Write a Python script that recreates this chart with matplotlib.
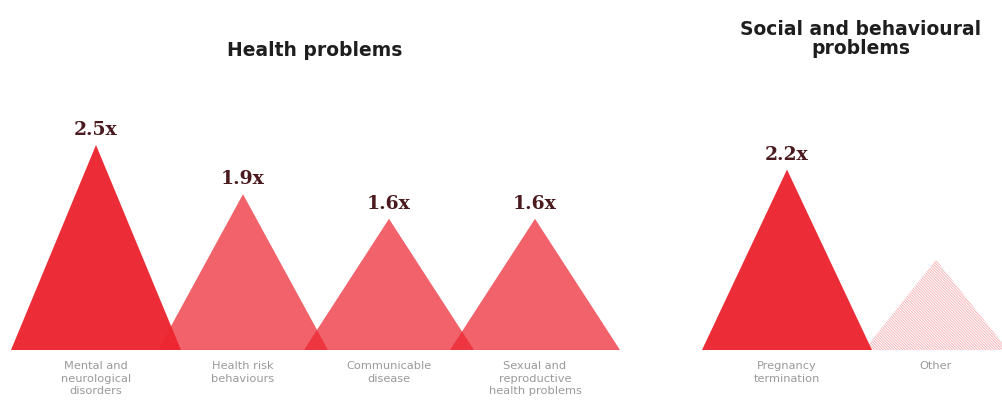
import matplotlib.pyplot as plt
from matplotlib.patches import Polygon

# data
health_labels = ["Mental and\nneurological\ndisorders", "Health risk\nbehaviours",
                 "Communicable\ndisease", "Sexual and\nreproductive\nhealth problems"]
health_values = [2.5, 1.9, 1.6, 1.6]
social_labels = ["Pregnancy\ntermination", "Other"]
social_values = [2.2, 1.1]   # "Other" has no printed value, estimated from its height

# layout (pixels across, value units up)
health_x = [96, 243, 389, 535]
social_x = [787, 936]
half_w = 85
other_half_w = 72
px_per_unit = 82
base_px = 350

red = "#EC2630"
label_grey = "#9A9A9A"
value_col = "#4A1A1E"

plt.rcParams["hatch.linewidth"] = 0.7
fig = plt.figure(figsize=(10.03, 4.12), dpi=100)
ax = fig.add_axes([0, 0, 1, 1])
ax.set_xlim(0, 1003)
ax.set_ylim(-(412 - base_px) / px_per_unit, base_px / px_per_unit)
ax.axis("off")


def triangle(x, v, hw, **kw):
    tri = Polygon([(x - hw, 0), (x, v), (x + hw, 0)], closed=True, linewidth=0, **kw)
    ax.add_patch(tri)


def value_label(x, v):
    ax.text(x, v + 0.07, f"{v}x", ha="center", va="bottom", fontsize=13.5,
            fontweight="bold", family="DejaVu Serif", color=value_col)


def cat_label(x, s):
    ax.text(x, -0.14, s, ha="center", va="top", fontsize=8.2, color=label_grey,
            linespacing=1.3)


# health problems
for i, (x, v, s) in enumerate(zip(health_x, health_values, health_labels)):
    triangle(x, v, half_w, facecolor=red, alpha=0.97 if i == 0 else 0.72, zorder=2 + i)
    value_label(x, v)
    cat_label(x, s)

# social and behavioural problems
triangle(social_x[0], social_values[0], half_w, facecolor=red, alpha=0.97, zorder=2)
value_label(social_x[0], social_values[0])
cat_label(social_x[0], social_labels[0])

triangle(social_x[1], social_values[1], other_half_w, facecolor="none",
         edgecolor="#F5B5B9", hatch="\\" * 12, zorder=1)
cat_label(social_x[1], social_labels[1])

# titles
fig.text(315 / 1003, 1 - 50 / 412, "Health problems", ha="center", va="center",
         fontsize=13.5, fontweight="bold", color="#1E1E1E")
fig.text(861 / 1003, 1 - 39 / 412, "Social and behavioural\nproblems", ha="center",
         va="center", fontsize=13.5, fontweight="bold", color="#1E1E1E", linespacing=1.0)

fig.savefig("out.png", dpi=100)
